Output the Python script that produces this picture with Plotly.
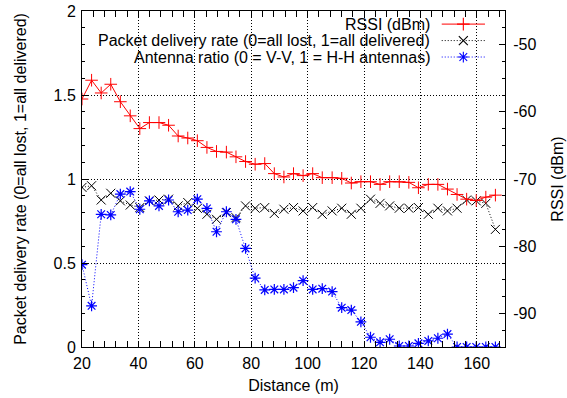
import plotly.graph_objects as go

# Distance (m)
distance = [20.0, 23.4, 26.8, 30.2, 33.6, 37.1, 40.5, 43.9, 47.3, 50.7, 54.1, 57.5,
            60.9, 64.3, 67.7, 71.2, 74.6, 78.0, 81.4, 84.8, 88.2, 91.6, 95.0, 98.4,
            101.8, 105.2, 108.7, 112.1, 115.5, 118.9, 122.3, 125.7, 129.1, 132.5,
            135.9, 139.3, 142.8, 146.2, 149.6, 153.0, 156.4, 159.8, 163.2, 166.6]

rssi = [-58.1, -55.3, -57.2, -55.9, -58.5, -60.6, -62.5, -61.6, -61.6, -62.0, -63.6, -63.9,
        -64.3, -65.3, -65.9, -66.0, -66.7, -67.4, -67.8, -67.7, -69.2, -69.7, -69.2, -69.5,
        -69.2, -69.8, -69.8, -69.9, -70.6, -70.4, -70.4, -70.8, -70.4, -70.4, -70.5, -71.3,
        -70.8, -70.8, -71.5, -72.3, -73.0, -73.2, -72.7, -72.4]

pdr = [0.95, 0.96, 0.875, 0.915, 0.87, 0.845, 0.83, 0.87, 0.875, 0.88, 0.84, 0.86,
       0.825, 0.79, 0.76, 0.80, 0.77, 0.84, 0.826, 0.83, 0.795, 0.82, 0.83, 0.81,
       0.83, 0.79, 0.81, 0.826, 0.79, 0.826, 0.88, 0.855, 0.84, 0.826, 0.826, 0.83,
       0.79, 0.826, 0.81, 0.826, 0.875, 0.87, 0.855, 0.70]

antenna = [0.49, 0.245, 0.79, 0.786, 0.91, 0.925, 0.82, 0.87, 0.84, 0.875, 0.805, 0.815,
           0.88, 0.825, 0.686, 0.805, 0.76, 0.587, 0.41, 0.34, 0.343, 0.343, 0.353, 0.395,
           0.343, 0.347, 0.33, 0.234, 0.22, 0.15, 0.058, 0.028, 0.046, 0.006, 0.006, 0.022,
           0.036, 0.052, 0.077, 0.0, 0.0, 0.0, 0.0, 0.0]

x_ticks = [20, 40, 60, 80, 100, 120, 140, 160]
y_ticks = [0, 0.5, 1, 1.5, 2]
y2_ticks = [-90, -80, -70, -60, -50]
y2_labels = ["-90", "-80", "-70", "-60", "-50"]

legend_names = ["RSSI (dBm)",
                "Packet delivery rate (0=all lost, 1=all delivered)",
                "Antenna ratio (0 = V-V, 1 = H-H antennas)"]

FONT = "Liberation Sans, Arial, sans-serif"
FS = 16
RED, BLACK, BLUE = "#ff0000", "#000000", "#0000ff"
DOT = "1px,2px"

fig = go.Figure()

fig.add_trace(go.Scatter(x=distance, y=pdr, mode="lines+markers", yaxis="y",
                         line=dict(color=BLACK, width=1, dash=DOT),
                         marker=dict(symbol="x-thin-open", size=9, color=BLACK, line=dict(color=BLACK, width=1)),
                         showlegend=False))
fig.add_trace(go.Scatter(x=distance, y=antenna, mode="lines+markers", yaxis="y",
                         line=dict(color=BLUE, width=1, dash=DOT),
                         marker=dict(symbol="asterisk-open", size=9, color=BLUE, line=dict(color=BLUE, width=1.2)),
                         showlegend=False))
fig.add_trace(go.Scatter(x=distance, y=rssi, mode="lines+markers", yaxis="y2",
                         line=dict(color=RED, width=1),
                         marker=dict(symbol="cross-thin-open", size=9, color=RED, line=dict(color=RED, width=1)),
                         showlegend=False))

# custom legend (text on left, sample on right) in an overlay unit axis
leg_y = [0.961, 0.912, 0.863]
styles = [(RED, "solid", "cross-thin-open"), (BLACK, DOT, "x-thin-open"), (BLUE, DOT, "asterisk-open")]
for name, yy, (col, dash, sym) in zip(legend_names, leg_y, styles):
    fig.add_trace(go.Scatter(x=[0.8504, 0.9527], y=[yy, yy], mode="lines", xaxis="x3", yaxis="y3",
                             line=dict(color=col, width=1, dash=dash), showlegend=False, hoverinfo="skip"))
    fig.add_trace(go.Scatter(x=[0.9015], y=[yy], mode="markers", xaxis="x3", yaxis="y3",
                             marker=dict(symbol=sym, size=9, color=col, line=dict(color=col, width=1.1)),
                             showlegend=False, hoverinfo="skip"))
    fig.add_annotation(x=0.8274, y=yy, xref="paper", yref="paper", text=name, showarrow=False,
                       xanchor="right", yanchor="middle", font=dict(family=FONT, size=FS, color="black"))

axis_common = dict(showline=True, linecolor="black", linewidth=1, ticks="inside",
                   tickcolor="black", ticklen=6, tickfont=dict(family=FONT, size=FS, color="black"),
                   zeroline=False, automargin=False)

fig.update_layout(
    width=567, height=398,
    margin=dict(l=82, r=62, t=11, b=51),
    paper_bgcolor="white", plot_bgcolor="white",
    font=dict(family=FONT, size=FS, color="black"),
    xaxis=dict(range=[20, 170], tickvals=x_ticks, mirror="allticks",
               showgrid=True, gridcolor="black", griddash=DOT, gridwidth=1,
               minor=dict(ticks="inside", dtick=4, tick0=20, ticklen=3, tickcolor="black", showgrid=False),
               title=dict(text="Distance (m)", font=dict(family=FONT, size=FS), standoff=8),
               ticklabelstandoff=2, **axis_common),
    yaxis=dict(range=[0, 2], tickvals=y_ticks, mirror=True,
               showgrid=True, gridcolor="black", griddash=DOT, gridwidth=1,
               minor=dict(ticks="inside", dtick=0.1, tick0=0, ticklen=3, tickcolor="black", showgrid=False),
               title=dict(text="Packet delivery rate (0=all lost, 1=all delivered)",
                          font=dict(family=FONT, size=FS), standoff=22),
               ticklabelstandoff=2, **axis_common),
    yaxis2=dict(range=[-95, -45], overlaying="y", side="right", tickvals=y2_ticks, ticktext=y2_labels,
                showgrid=False,
                minor=dict(ticks="inside", dtick=2.5, tick0=-90, ticklen=3, tickcolor="black", showgrid=False),
                title=dict(text="RSSI (dBm)", font=dict(family=FONT, size=FS), standoff=16),
                ticklabelstandoff=4, **axis_common),
    xaxis3=dict(range=[0, 1], overlaying="x", visible=False, fixedrange=True),
    yaxis3=dict(range=[0, 1], overlaying="y", visible=False, fixedrange=True),
)

fig.write_html("out.html")
